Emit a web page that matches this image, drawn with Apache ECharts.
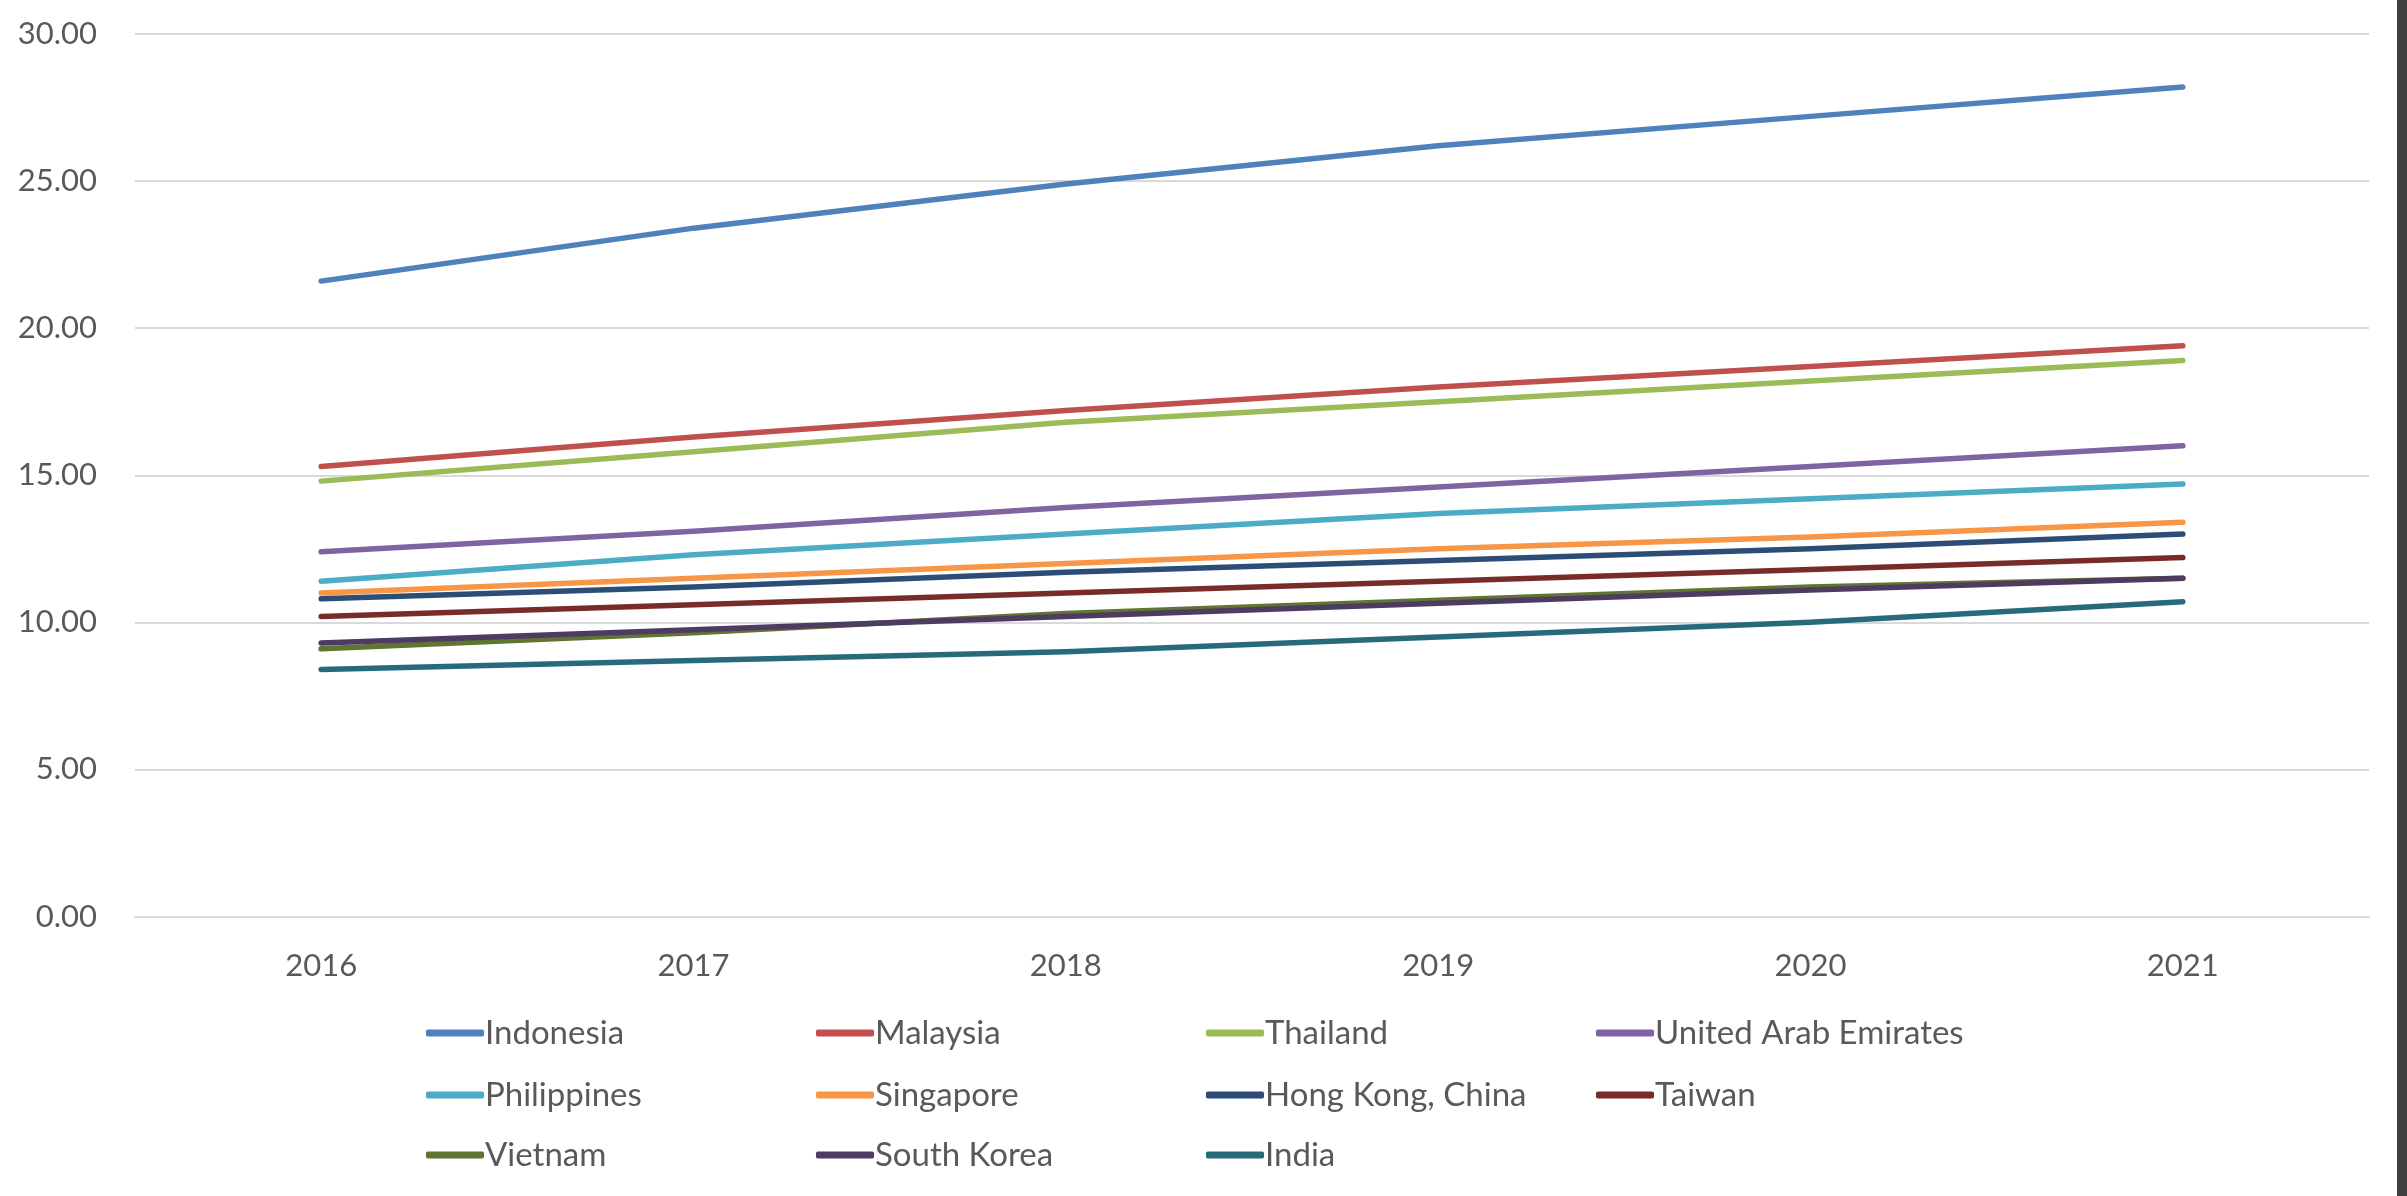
<!DOCTYPE html>
<html>
<head>
<meta charset="utf-8">
<script src="https://cdn.jsdelivr.net/npm/echarts@6/dist/echarts.min.js"></script>
<style>
  html, body { margin: 0; padding: 0; background: #fff; }
  #chart { width: 2407px; height: 1196px; }
</style>
</head>
<body>
<div id="chart"></div>
<script>
// categories (years)
var years = ['2016', '2017', '2018', '2019', '2020', '2021'];

// series values
var indonesia   = [21.6, 23.4, 24.9, 26.2, 27.2, 28.2];
var malaysia    = [15.3, 16.3, 17.2, 18.0, 18.7, 19.4];
var thailand    = [14.8, 15.8, 16.8, 17.5, 18.2, 18.9];
var uae         = [12.4, 13.1, 13.9, 14.6, 15.3, 16.0];
var philippines = [11.4, 12.3, 13.0, 13.7, 14.2, 14.7];
var singapore   = [11.0, 11.5, 12.0, 12.5, 12.9, 13.4];
var hongKong    = [10.8, 11.2, 11.7, 12.1, 12.5, 13.0];
var taiwan      = [10.2, 10.6, 11.0, 11.4, 11.8, 12.2];
var vietnam     = [9.1, 9.65, 10.3, 10.75, 11.2, 11.5];
var southKorea  = [9.3, 9.75, 10.2, 10.65, 11.1, 11.5];
var india       = [8.4, 8.7, 9.0, 9.5, 10.0, 10.7];

var names = ['Indonesia', 'Malaysia', 'Thailand', 'United Arab Emirates',
             'Philippines', 'Singapore', 'Hong Kong, China', 'Taiwan',
             'Vietnam', 'South Korea', 'India'];
var values = [indonesia, malaysia, thailand, uae, philippines, singapore,
              hongKong, taiwan, vietnam, southKorea, india];
var colors = ['#4f81bd', '#c0504d', '#9bbb59', '#8064a2', '#4bacc6', '#f79646',
              '#2c4d75', '#772c2a', '#5f7530', '#4d3b62', '#276a7c'];

var fontFam = 'Lato, "Open Sans", sans-serif';
var textGrey = '#595959';

var series = [];
for (var i = 0; i < names.length; i++) {
    series.push({
        name: names[i],
        type: 'line',
        data: values[i],
        showSymbol: false,
        symbol: 'none',
        lineStyle: { width: 5.5, color: colors[i], cap: 'round', join: 'round' },
        itemStyle: { color: colors[i] },
        emphasis: { disabled: true }
    });
}

// legend: three rows of four columns
function makeLegend(rowNames, top) {
    return {
        data: rowNames,
        left: 421,
        top: top,
        orient: 'horizontal',
        icon: 'roundRect',
        itemWidth: 58,
        itemHeight: 7,
        itemGap: 0,
        selectedMode: false,
        textStyle: {
            fontFamily: fontFam,
            fontSize: 33,
            color: textGrey,
            width: 331,
            lineHeight: 40,
            padding: [0, 0, 0, -4]
        }
    };
}

var myChart = echarts.init(document.getElementById('chart'));

var option = {
    animation: false,
    color: colors,
    grid: {
        left: 135,
        right: 38,
        top: 34,
        bottom: 279.5
    },
    xAxis: {
        type: 'category',
        data: years,
        boundaryGap: true,
        axisLine: { show: true, lineStyle: { color: '#d9d9d9', width: 2 } },
        axisTick: { show: false },
        axisLabel: {
            color: textGrey,
            fontFamily: fontFam,
            fontSize: 31,
            margin: 34
        }
    },
    yAxis: {
        type: 'value',
        min: 0,
        max: 30,
        interval: 5,
        axisLine: { show: false },
        axisTick: { show: false },
        splitLine: { lineStyle: { color: '#d9d9d9', width: 2 } },
        axisLabel: {
            color: textGrey,
            fontFamily: fontFam,
            fontSize: 31,
            margin: 38,
            formatter: function (v) { return v.toFixed(2); }
        }
    },
    legend: [
        makeLegend(names.slice(0, 4), 1008),
        makeLegend(names.slice(4, 8), 1070),
        makeLegend(names.slice(8), 1130)
    ],
    graphic: [{
        type: 'rect',
        right: 0,
        top: 0,
        shape: { width: 10, height: 1196 },
        style: { fill: '#404040' },
        silent: true
    }],
    series: series
};

myChart.setOption(option);
</script>
</body>
</html>
